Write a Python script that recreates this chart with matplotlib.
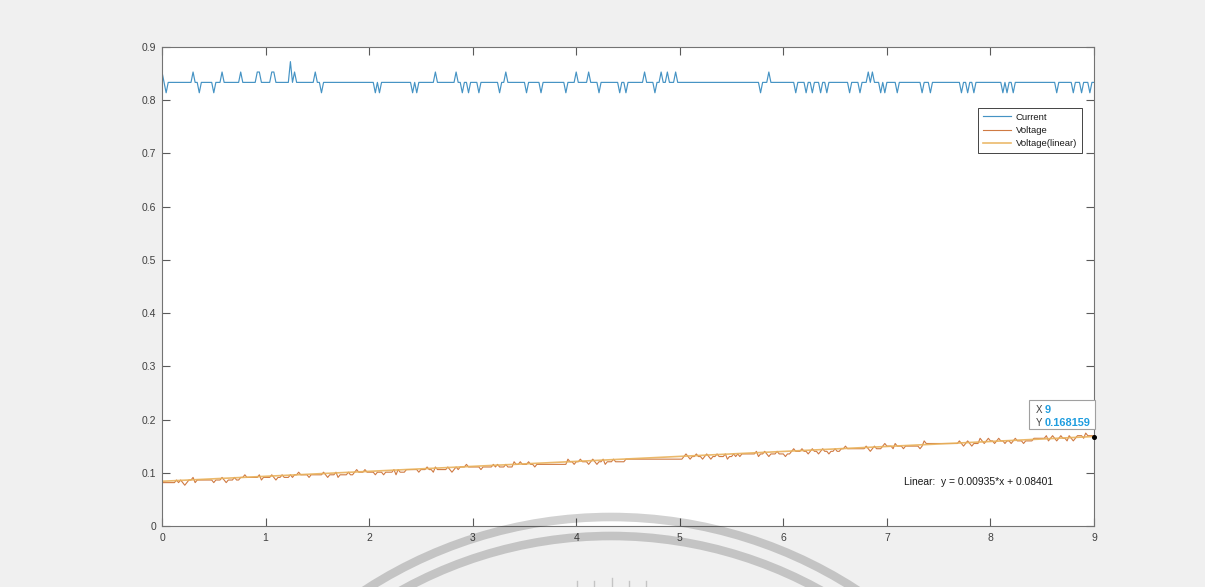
import numpy as np
import matplotlib
matplotlib.use("Agg")
import matplotlib.pyplot as plt
from matplotlib.patches import Rectangle, Arc
from matplotlib.lines import Line2D
from matplotlib.transforms import IdentityTransform

plt.rcParams["font.family"] = ["Liberation Sans", "DejaVu Sans"]

# ---- sampling --------------------------------------------------------------
T_END = 9.0
N_SAMPLES = 451

# ---- current channel: resting level and quantised excursions ---------------
CUR_BASE = 0.8335
CUR_HIGH = 0.853
CUR_LOW = 0.814
CUR_PEAK = 0.8725
CUR_HIGH_AT = [0.000, 0.306, 0.573, 0.757, 0.927, 0.947, 1.069, 1.088, 1.271,
               1.490, 2.632, 2.832, 3.318, 4.000, 4.112, 4.654, 4.811, 4.881,
               4.954, 5.852, 6.815, 6.863]
CUR_LOW_AT = [0.036, 0.354, 0.492, 1.532, 2.053, 2.095, 2.413, 2.465, 2.900,
              2.958, 3.060, 3.260, 3.511, 3.655, 3.897, 4.211, 4.428, 4.486,
              4.754, 5.786, 6.112, 6.229, 6.287, 6.368, 6.426, 6.638, 6.735,
              6.934, 6.976, 7.095, 7.346, 7.427, 7.719, 7.777, 7.835, 8.125,
              8.163, 8.221, 8.646, 8.810, 8.887, 8.954]
CUR_PEAK_AT = [1.233]

# ---- voltage channel: staircase of ADC levels plus one-count glitches ------
VOLT_START = 0.0815
VOLT_LSB = 0.0049
VOLT_STEP_AT = [0.25, 0.78, 1.30, 1.83, 2.35, 2.88, 3.40, 3.92, 4.48, 5.03,
                5.55, 6.05, 6.55, 6.95, 7.36, 7.90, 8.40, 8.85]
VOLT_UP_AT = [0.132, 0.171, 0.293, 0.583, 0.702, 0.756, 0.808, 0.943, 1.056,
              1.168, 1.233, 1.271, 1.313, 1.570, 1.677, 1.796, 1.883, 1.966,
              2.230, 2.288, 2.568, 2.648, 2.751, 2.841, 2.938, 3.195, 3.244,
              3.324, 3.404, 3.469, 3.533, 3.919, 4.048, 4.161, 4.257, 4.354,
              5.055, 5.158, 5.255, 5.351, 5.431, 5.512, 5.737, 5.818, 5.946,
              6.091, 6.188, 6.284, 6.381, 6.493, 6.600, 6.799, 6.879, 6.976,
              7.088, 7.362, 7.700, 7.780, 7.893, 7.989, 8.086, 8.247, 8.536,
              8.601, 8.681, 8.762, 8.842, 8.923]
VOLT_DOWN_AT = [0.219, 0.316, 0.502, 0.621, 0.969, 1.104, 1.419, 1.603, 1.699,
                1.844, 2.053, 2.134, 2.269, 2.487, 2.616, 2.793, 3.083, 3.598,
                3.984, 4.112, 4.209, 4.289, 5.094, 5.222, 5.303, 5.464, 5.576,
                5.769, 5.866, 6.011, 6.059, 6.236, 6.332, 6.445, 6.847, 7.056,
                7.169, 7.314, 7.732, 7.829, 7.941, 8.038, 8.134, 8.199, 8.311,
                8.408, 8.568, 8.649, 8.730, 8.810, 8.890]

# ---- linear fit of the voltage and its data tip ---------------------------
FIT_SLOPE = 0.00935
FIT_INTERCEPT = 0.08401
TIP_X = 9
TIP_Y = 0.168159

X_TICKS = list(range(10))
Y_TICKS = [0, 0.1, 0.2, 0.3, 0.4, 0.5, 0.6, 0.7, 0.8, 0.9]
Y_TICK_LABELS = ["0", "0.1", "0.2", "0.3", "0.4", "0.5", "0.6", "0.7", "0.8", "0.9"]
LEGEND_LABELS = ["Current", "Voltage", "Voltage(linear)"]
FIT_LABEL = "Linear:  y = 0.00935*x + 0.08401"

C_CURRENT = "#4593c4"
C_VOLTAGE = "#cf7a43"
C_FIT = "#e9b25c"

# ---- build the sampled series ---------------------------------------------
t = np.linspace(0.0, T_END, N_SAMPLES)


def sample_index(x):
    return int(round(x / T_END * (N_SAMPLES - 1)))


current = np.full(N_SAMPLES, CUR_BASE)
for x in CUR_HIGH_AT:
    current[sample_index(x)] = CUR_HIGH
for x in CUR_LOW_AT:
    current[sample_index(x)] = CUR_LOW
for x in CUR_PEAK_AT:
    current[sample_index(x)] = CUR_PEAK

voltage = VOLT_START + VOLT_LSB * np.searchsorted(VOLT_STEP_AT, t, side="right")
for x in VOLT_UP_AT:
    voltage[sample_index(x)] += VOLT_LSB
for x in VOLT_DOWN_AT:
    voltage[sample_index(x)] -= VOLT_LSB

fit = FIT_SLOPE * t + FIT_INTERCEPT

# ---- figure ---------------------------------------------------------------
W, H = 1205, 587
fig = plt.figure(figsize=(W / 100, H / 100), dpi=100, facecolor="#f0f0f0")
ax = fig.add_axes([162 / W, 1 - 526 / H, (1094 - 162) / W, (526 - 47) / H])
ax.set_facecolor("white")

l_cur, = ax.plot(t, current, color=C_CURRENT, lw=0.85)
l_volt, = ax.plot(t, voltage, color=C_VOLTAGE, lw=0.8)
l_fit, = ax.plot(t, fit, color=C_FIT, lw=1.2, alpha=0.9)

ax.set_xlim(0, 9)
ax.set_ylim(0, 0.9)
ax.set_xticks(X_TICKS)
ax.set_xticklabels([str(v) for v in X_TICKS])
ax.set_yticks(Y_TICKS)
ax.set_yticklabels(Y_TICK_LABELS)
ax.tick_params(direction="in", top=True, right=True, length=5.8, width=0.8,
               color="#5a5a5a", labelcolor="#404040", labelsize=7.5)
ax.tick_params(axis="x", pad=5)
ax.tick_params(axis="y", pad=4)
for sp in ax.spines.values():
    sp.set_color("#737373")
    sp.set_linewidth(0.8)

leg = ax.legend([l_cur, l_volt, l_fit], LEGEND_LABELS, loc="upper left",
                bbox_to_anchor=(978 / W, 1 - 108 / H), bbox_transform=fig.transFigure,
                borderaxespad=0, fontsize=6.8, frameon=True, fancybox=False,
                framealpha=1, edgecolor="#262626", handlelength=3.0,
                handletextpad=0.5, labelspacing=0.45, borderpad=0.5)
leg.get_frame().set_linewidth(0.6)
for txt in leg.get_texts():
    txt.set_color("#1a1a1a")

# equation of the fit
ax.text(7.17, 0.0835, FIT_LABEL, fontsize=7.4, color="#1a1a1a",
        ha="left", va="center")

# data tip on the fitted line
ax.plot([TIP_X], [TIP_Y], "o", color="black", ms=2.6, clip_on=False, zorder=6)
px, py = ax.transData.transform((TIP_X, TIP_Y))
fig.add_artist(Rectangle((px - 65, py + 8), 66, 29, transform=IdentityTransform(),
                         facecolor="white", edgecolor="#a0a0a0", lw=0.8, zorder=7))
tip_font = dict(transform=IdentityTransform(), va="center", ha="left", zorder=8)
fig.text(px - 58, py + 27, "X", color="#404040", fontsize=7.0, **tip_font)
fig.text(px - 49.5, py + 27, f"{TIP_X:g}", color="#1f9ddf", fontweight="bold",
         fontsize=7.9, **tip_font)
fig.text(px - 58, py + 14, "Y", color="#404040", fontsize=7.0, **tip_font)
fig.text(px - 49.5, py + 14, f"{TIP_Y:.6f}", color="#1f9ddf", fontweight="bold",
         fontsize=7.9, **tip_font)

# faint emblem at the bottom of the page
cx, cy = 611, H - 968
for r in (451, 432):
    fig.add_artist(Arc((cx, cy), 2 * r, 2 * r, theta1=20, theta2=160,
                       transform=IdentityTransform(), color=(0, 0, 0, 0.18),
                       lw=6.2, zorder=10))
for mx, top in ((577, 6), (594, 6), (612, 9), (629, 6), (646, 6)):
    fig.add_artist(Line2D([mx, mx], [0, top], transform=IdentityTransform(),
                          color="#c4c4c4", lw=1.0, zorder=10))

fig.savefig("out.png", dpi=100, facecolor=fig.get_facecolor())
